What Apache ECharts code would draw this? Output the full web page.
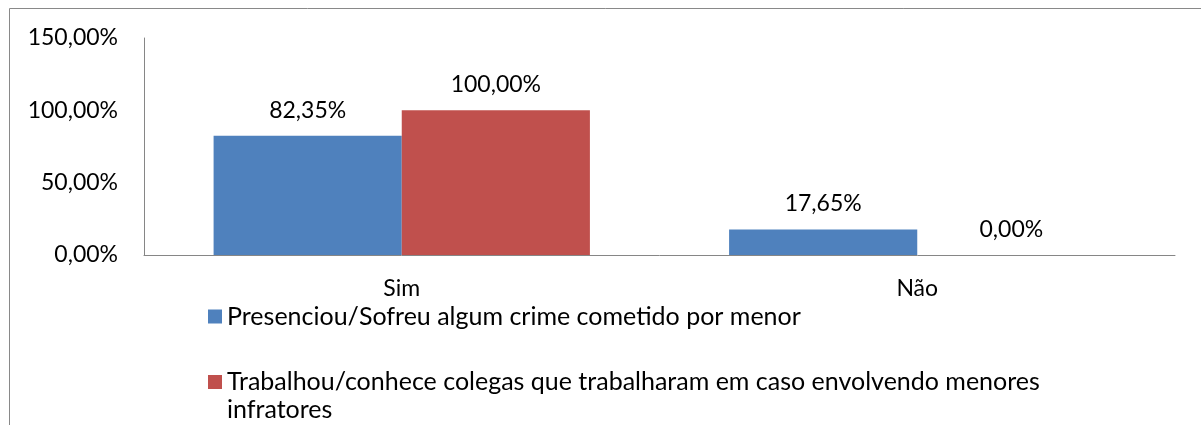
<!DOCTYPE html>
<html><head><meta charset="utf-8">
<script src="https://cdn.jsdelivr.net/npm/echarts@6/dist/echarts.min.js"></script>
<style>html,body{margin:0;padding:0;background:#fff}#c{width:1201px;height:425px}</style>
</head><body><div id="c"></div>
<script>
const categories = ['Sim', 'Não'];
const seriesNames = ['Presenciou/Sofreu algum crime cometido por menor', 'Trabalhou/conhece colegas que trabalharam em caso envolvendo menores infratores'];
const presenciou = [82.35, 17.65];
const trabalhou = [100.00, 0.00];

const fmt = v => v.toFixed(2).replace('.', ',') + '%';
const FONT = 'Lato';
const chart = echarts.init(document.getElementById('c'), null, {renderer: 'canvas'});
chart.setOption({
  animation: false,
  textStyle: {fontFamily: FONT, color: '#000'},
  graphic: [{type: 'rect', shape: {x: 9.5, y: 8.5, width: 1250, height: 450}, style: {fill: null, stroke: '#898989', lineWidth: 1}, silent: true}],
  grid: {left: 144, right: 26, top: 38, bottom: 170},
  legend: [
    {data: [seriesNames[0]], orient: 'vertical', left: 203, top: 299, itemWidth: 14, itemHeight: 14,
     icon: 'rect', textStyle: {fontFamily: FONT, fontSize: 25, color: '#000'}},
    {data: [seriesNames[1]], orient: 'vertical', left: 203, top: 335, itemWidth: 14, itemHeight: 14,
     icon: 'rect', formatter: n => '\n' + n,
     textStyle: {fontFamily: FONT, fontSize: 25, color: '#000', width: 860, overflow: 'break', lineHeight: 28}}
  ],
  xAxis: {type: 'category', data: categories,
    axisLine: {lineStyle: {color: '#868686'}}, axisTick: {show: false},
    axisLabel: {fontSize: 23, color: '#000', margin: 22, fontFamily: FONT}},
  yAxis: {type: 'value', min: 0, max: 150, interval: 50,
    axisLine: {show: true, lineStyle: {color: '#868686'}}, axisTick: {show: false}, splitLine: {show: false},
    axisLabel: {fontSize: 23, color: '#000', margin: 26, fontFamily: FONT, formatter: fmt}},
  series: [
    {name: seriesNames[0], type: 'bar', data: presenciou, barGap: '0%', barCategoryGap: '27%',
     itemStyle: {color: '#4F81BD'},
     label: {show: true, position: 'top', distance: 14, fontSize: 23, color: '#000', fontFamily: FONT, formatter: p => fmt(p.value)}},
    {name: seriesNames[1], type: 'bar', data: trabalhou,
     itemStyle: {color: '#C0504D'},
     label: {show: true, position: 'top', distance: 14, fontSize: 23, color: '#000', fontFamily: FONT, formatter: p => fmt(p.value)}}
  ]
});
</script></body></html>
